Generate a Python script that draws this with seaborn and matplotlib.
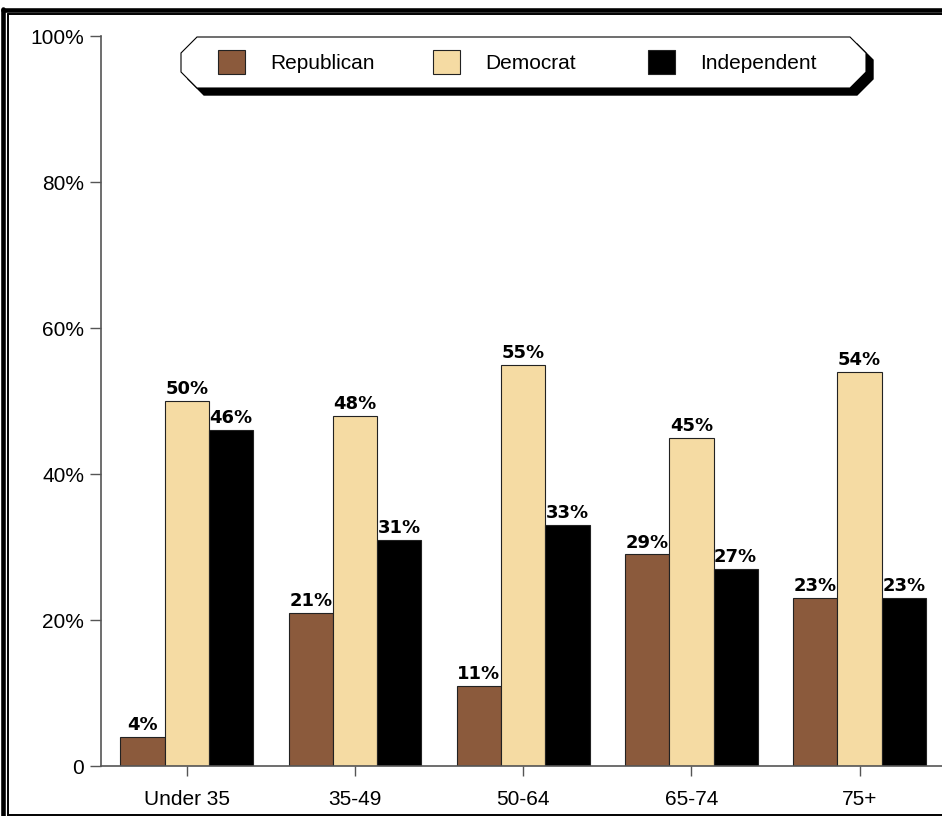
import pandas as pd
import numpy as np
import matplotlib
matplotlib.use("Agg")
import matplotlib.pyplot as plt
import seaborn as sns
from matplotlib.patches import Polygon, Patch
from matplotlib.lines import Line2D

# Data
age_groups = ["Under 35", "35-49", "50-64", "65-74", "75+"]
parties = ["Republican", "Democrat", "Independent"]
republican = [4, 21, 11, 29, 23]
democrat = [50, 48, 55, 45, 54]
independent = [46, 31, 33, 27, 23]
colors = ["#8B5A3C", "#F5DBA3", "#000000"]
y_ticks = [0, 20, 40, 60, 80, 100]
y_labels = ["0", "20%", "40%", "60%", "80%", "100%"]

df = pd.DataFrame({
    "age": age_groups * 3,
    "party": np.repeat(parties, len(age_groups)),
    "value": republican + democrat + independent,
})

W, H = 942, 816
sns.set_style("white")
plt.rcParams["font.family"] = ["Liberation Sans", "DejaVu Sans"]
plt.rcParams["text.color"] = "black"
plt.rcParams["xtick.labelcolor"] = "black"
plt.rcParams["ytick.labelcolor"] = "black"

fig = plt.figure(figsize=(W / 100, H / 100), dpi=100)
ax = fig.add_axes([101 / W, 1 - 766 / H, 1 - 101 / W, (766 - 36) / H])

sns.barplot(data=df, x="age", y="value", hue="party", order=age_groups,
            hue_order=parties, palette=colors, saturation=1, width=0.79, gap=0,
            edgecolor="#222222", linewidth=0.8, ax=ax, legend=False)

# value labels
for cont in ax.containers:
    ax.bar_label(cont, labels=[f"{v:.0f}%" for v in cont.datavalues],
                 padding=2, fontsize=13, fontweight="bold",
                 family="DejaVu Sans", color="black")

ax.set_xlim(-0.51, 4.49)
ax.set_ylim(0, 100)
ax.set_yticks(y_ticks)
ax.set_yticklabels(y_labels)
ax.set_xlabel("")
ax.set_ylabel("")
for s in ["top", "right"]:
    ax.spines[s].set_visible(False)
for s in ["left", "bottom"]:
    ax.spines[s].set_color("#555555")
    ax.spines[s].set_linewidth(1.2)
ax.tick_params(axis="x", direction="out", length=7.5, width=1, color="#555555",
               labelsize=15, pad=9.5, bottom=True, labelcolor="black")
ax.tick_params(axis="y", direction="out", length=8, width=1, color="#555555",
               labelsize=15, pad=4, left=True, labelcolor="black")


def px(x, y):
    return (x / W, 1 - y / H)


# legend box (octagon with shadow)
x0, x1, y0, y1, c = 181, 866, 37, 88, 16
pts = [(x0 + c, y0), (x1 - c, y0), (x1, y0 + c), (x1, y1 - c), (x1 - c, y1),
       (x0 + c, y1), (x0, y1 - c), (x0, y0 + c)]
shadow = Polygon([px(x + 7, y + 7) for x, y in pts], closed=True,
                 transform=fig.transFigure, facecolor="black", edgecolor="black", zorder=5)
box = Polygon([px(x, y) for x, y in pts], closed=True, transform=fig.transFigure,
              facecolor="white", edgecolor="black", linewidth=0.8, zorder=6)
fig.add_artist(shadow)
fig.add_artist(box)

# one legend entry per column, evenly spaced
for i, (party, col) in enumerate(zip(parties, colors)):
    h = Patch(facecolor=col, edgecolor="#222222", linewidth=0.8)
    leg = fig.legend([h], [party], loc="center left",
                     bbox_to_anchor=px(218 + 215 * i, 62), borderpad=0,
                     borderaxespad=0, frameon=False, fontsize=15,
                     handlelength=1.3, handleheight=1.35, handletextpad=1.2)
    leg.set_zorder(7)

# double frame around the chart
frame = [
    ([2.5, 2.5], [9, H]), ([2.5, W], [9.5, 9.5]),
]
for xs, ys in frame:
    fig.add_artist(Line2D([x / W for x in xs], [1 - y / H for y in ys],
                          color="black", linewidth=3.3, transform=fig.transFigure))
thin = [
    ([8, 8], [14, H]), ([8, W], [14, 14]), ([8, W], [815, 815]),
]
for xs, ys in thin:
    fig.add_artist(Line2D([x / W for x in xs], [1 - y / H for y in ys],
                          color="black", linewidth=1.4, transform=fig.transFigure))

fig.savefig("out.png", dpi=100)
